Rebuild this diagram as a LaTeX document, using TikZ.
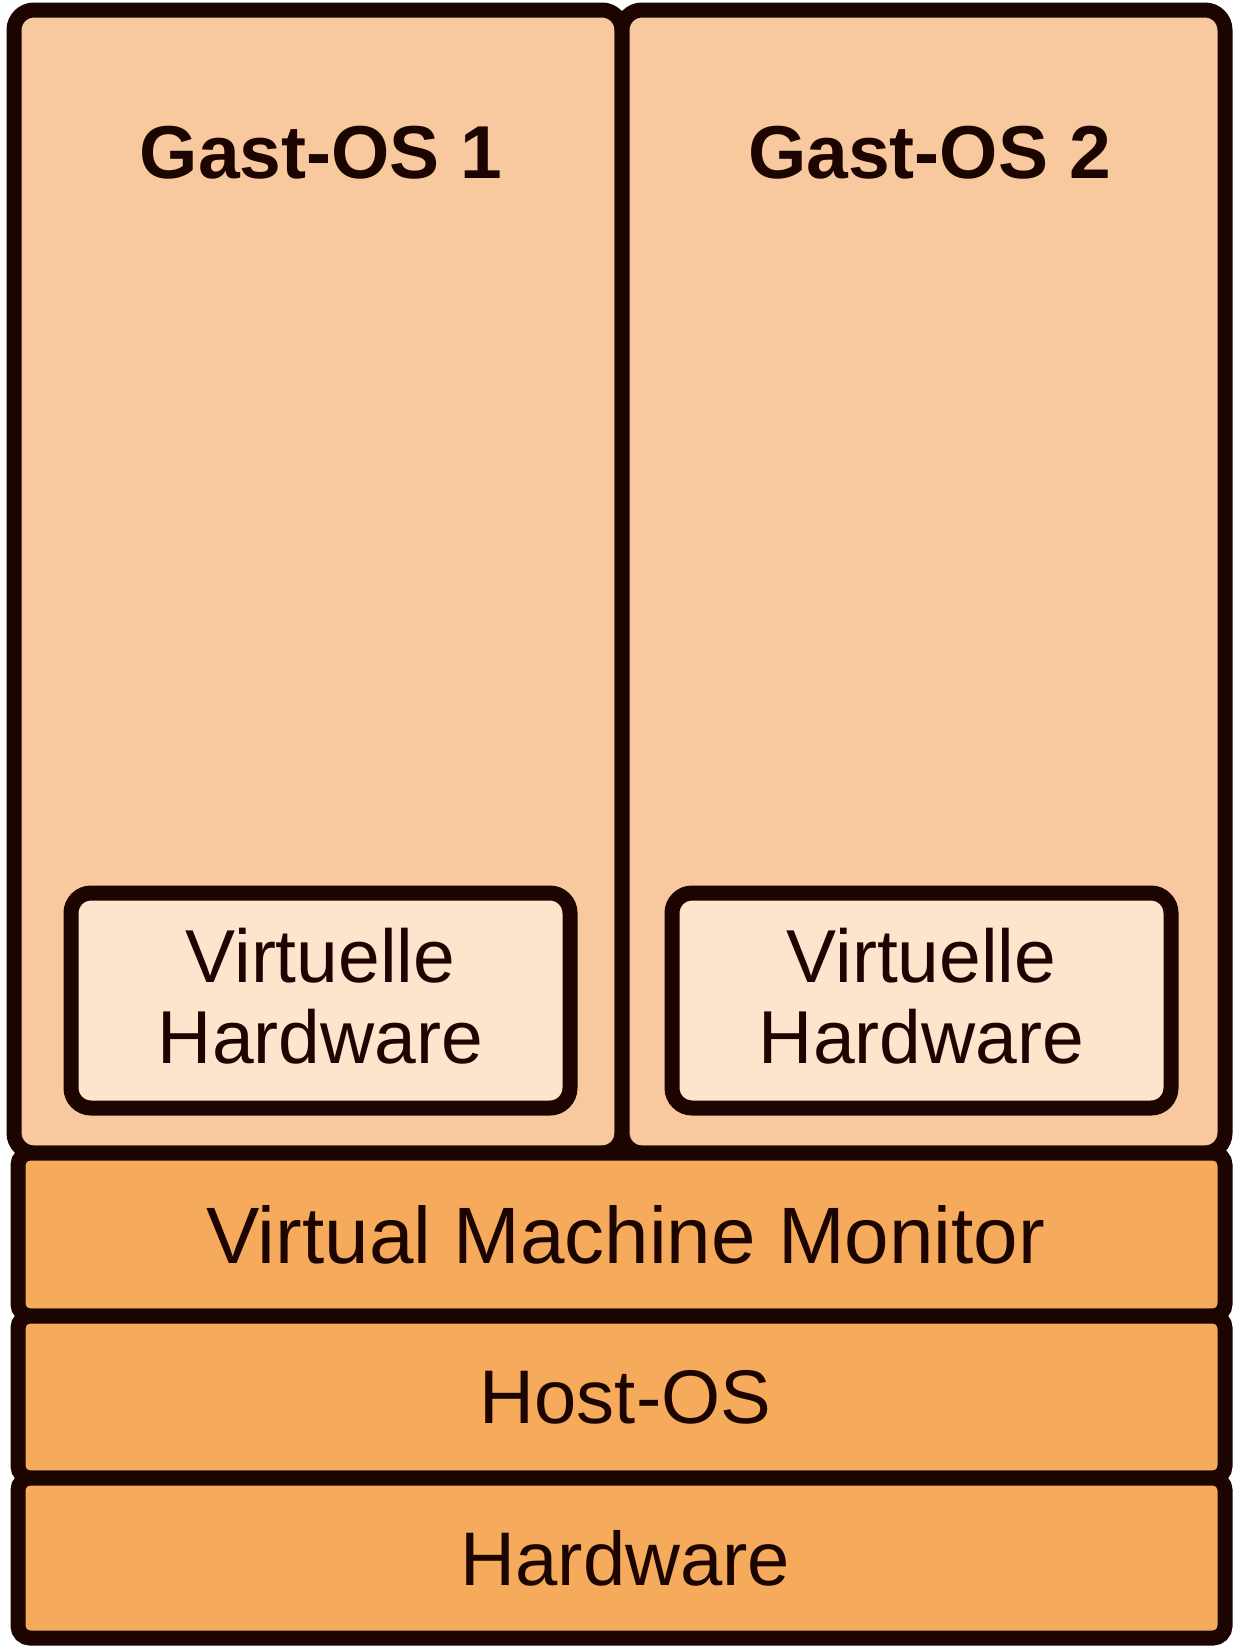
\documentclass[tikz,border=0pt]{standalone}
\usepackage{fontspec}
\setmainfont{Liberation Sans}
\definecolor{edge}{HTML}{1C0400}
\definecolor{guestfill}{HTML}{F8C99E}
\definecolor{layerfill}{HTML}{F5AA5C}
\definecolor{vhwfill}{HTML}{FDE4CD}
\begin{document}
\begin{tikzpicture}[x=1pt,y=-1pt,
  box/.style={draw=edge, line width=15pt, inner sep=0pt, outer sep=0pt},
  guest/.style={box, fill=guestfill, rounded corners=20pt},
  vhw/.style={box, fill=vhwfill, rounded corners=20pt},
  layer/.style={box, fill=layerfill, rounded corners=12pt},
  plain/.style={text=edge, inner sep=0pt, align=center,
                font=\fontsize{75}{81}\selectfont},
  title/.style={plain, anchor=base,
                font=\bfseries\fontsize{75}{81}\selectfont}]
\useasboundingbox (0,0) rectangle (1233,1647);

% guest operating systems
\node[guest, minimum width=608pt, minimum height=1143pt] (gos1) at (318,581.5) {};
\node[guest, minimum width=603pt, minimum height=1143pt] (gos2) at (923.5,581.5) {};
\node[title] (gos1label) at (321,178) {Gast-OS 1};
\node[title] (gos2label) at (929.5,178) {Gast-OS 2};

% virtual hardware inside each guest
\node[vhw, minimum width=499pt, minimum height=215pt] (vhw1) at (320.5,1000.5) {};
\node[vhw, minimum width=499pt, minimum height=215pt] (vhw2) at (921.5,1000.5) {};
\node[plain] (vhw1label) at ([yshift=4pt]vhw1.center) {Virtuelle\\Hardware};
\node[plain] (vhw2label) at ([yshift=4pt]vhw2.center) {Virtuelle\\Hardware};

% stacked layers below
\node[layer, minimum width=1207pt, minimum height=163pt] (vmm) at (621.5,1234.5) {};
\node[layer, minimum width=1207pt, minimum height=162pt] (host) at (621.5,1397) {};
\node[layer, minimum width=1207pt, minimum height=160pt] (hw) at (621.5,1558) {};
\node[plain, font=\fontsize{80}{81}\selectfont] (vmmlabel) at ([xshift=4pt]vmm.center) {Virtual Machine Monitor};
\node[plain, font=\fontsize{76}{81}\selectfont] (hostlabel) at ([xshift=4pt]host.center) {Host-OS};
\node[plain, font=\fontsize{76}{81}\selectfont] (hwlabel) at ([xshift=4pt]hw.center) {Hardware};
\end{tikzpicture}
\end{document}
